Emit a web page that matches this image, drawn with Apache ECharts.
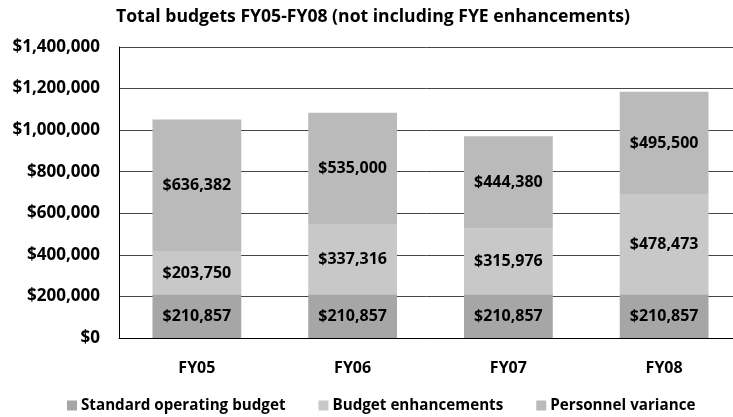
<!DOCTYPE html>
<html>
<head>
<meta charset="utf-8">
<script src="https://cdn.jsdelivr.net/npm/echarts@6/dist/echarts.min.js"></script>
<style>
  html, body { margin: 0; padding: 0; background: #fff; }
  #chart { width: 733px; height: 417px; }
</style>
</head>
<body>
<div id="chart"></div>
<script>
const categories = ['FY05', 'FY06', 'FY07', 'FY08']
const standardBudget = [210857, 210857, 210857, 210857]
const enhancements = [203750, 337316, 315976, 478473]
const personnelVariance = [636382, 535000, 444380, 495500]

const FONT = '"Open Sans", "Noto Sans", sans-serif'

const money = v => '$' + Math.round(v).toLocaleString('en-US')

const barLabel = {
  show: true,
  position: 'inside',
  color: '#000',
  fontFamily: FONT,
  fontWeight: 'bold',
  fontSize: 16,
  formatter: p => money(p.value)
}

const chart = echarts.init(document.getElementById('chart'))
chart.setOption({
  animation: false,
  backgroundColor: '#fff',
  title: {
    text: 'Total budgets FY05-FY08 (not including FYE enhancements)',
    left: 368,
    top: 3,
    textAlign: 'center',
    textStyle: { fontFamily: FONT, fontWeight: 'bold', fontSize: 17.6, color: '#000' }
  },
  legend: {
    top: 393,
    left: 62,
    itemWidth: 10,
    itemHeight: 10,
    itemGap: 33,
    icon: 'rect',
    textStyle: { fontFamily: FONT, fontWeight: 'bold', fontSize: 15.2, color: '#000', padding: [0, 0, 0, -1] }
  },
  // 右侧绘图区超出画布
  grid: { left: 119, width: 623, top: 47, height: 291, containLabel: false, outerBoundsMode: 'none' },
  xAxis: {
    type: 'category',
    data: categories,
    axisLine: { lineStyle: { color: '#000', width: 1 } },
    axisTick: { show: false },
    axisLabel: { fontFamily: FONT, fontWeight: 'bold', fontSize: 16, color: '#000', margin: 22 }
  },
  yAxis: {
    type: 'value',
    min: 0,
    max: 1400000,
    interval: 200000,
    axisLine: { show: true, lineStyle: { color: '#000' } },
    axisTick: { show: false },
    splitLine: { lineStyle: { color: '#444', width: 1 } },
    axisLabel: { fontFamily: FONT, fontWeight: 'bold', fontSize: 17, color: '#000', margin: 19, formatter: money }
  },
  series: [
    { name: 'Standard operating budget', type: 'bar', stack: 'total', data: standardBudget, barWidth: '57%',
      itemStyle: { color: '#a6a6a6' }, label: barLabel },
    { name: 'Budget enhancements', type: 'bar', stack: 'total', data: enhancements,
      itemStyle: { color: '#c8c8c8' }, label: barLabel },
    { name: 'Personnel variance', type: 'bar', stack: 'total', data: personnelVariance,
      itemStyle: { color: '#bababa' }, label: barLabel }
  ]
})
</script>
</body>
</html>
